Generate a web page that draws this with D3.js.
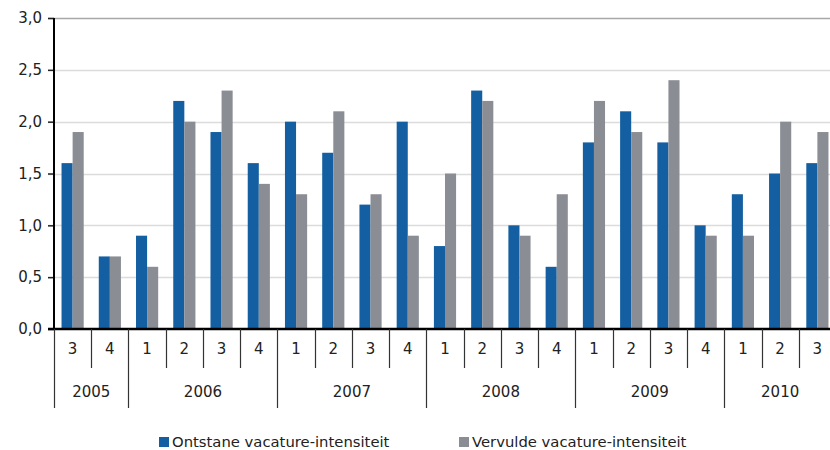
<!doctype html>
<html>
<head>
<meta charset="utf-8">
<title>Vacature-intensiteit</title>
<script src="https://cdn.jsdelivr.net/npm/d3@7"></script>
<style>
    body { margin: 0; background: white; }
    text { font-family: Verdana, "DejaVu Sans", sans-serif; fill: #222; }
    .tick text { font-size: 15px; }
</style>
</head>
<body>
<script>
    // data
    const years = ["2005", "2006", "2007", "2008", "2009", "2010"];
    const quarters = ["3", "4", "1", "2", "3", "4", "1", "2", "3", "4", "1", "2", "3", "4",
        "1", "2", "3", "4", "1", "2", "3"];
    const quarterYear = [0, 0, 1, 1, 1, 1, 2, 2, 2, 2, 3, 3, 3, 3, 4, 4, 4, 4, 5, 5, 5];
    const ontstaan = [1.6, 0.7, 0.9, 2.2, 1.9, 1.6, 2.0, 1.7, 1.2, 2.0, 0.8, 2.3, 1.0, 0.6,
        1.8, 2.1, 1.8, 1.0, 1.3, 1.5, 1.6];
    const vervuld = [1.9, 0.7, 0.6, 2.0, 2.3, 1.4, 1.3, 2.1, 1.3, 0.9, 1.5, 2.2, 0.9, 1.3,
        2.2, 1.9, 2.4, 0.9, 0.9, 2.0, 1.9];
    const seriesNames = ["Ontstane vacature-intensiteit", "Vervulde vacature-intensiteit"];
    const colours = ["#135fa1", "#8a8d94"];
    const yTicks = [0, 0.5, 1, 1.5, 2, 2.5, 3];

    const width = 830, height = 450;
    const plotLeft = 54, plotRight = 836, plotTop = 18, plotBottom = 329;

    const svg = d3.select("body").append("svg")
        .attr("width", width)
        .attr("height", height);

    const x = d3.scaleBand()
        .domain(d3.range(quarters.length))
        .range([plotLeft, plotRight]);
    const sub = d3.scaleBand()
        .domain([0, 1])
        .range([0, x.bandwidth()])
        .paddingOuter(0.68);
    const y = d3.scaleLinear()
        .domain([0, 3])
        .range([plotBottom, plotTop]);

    const fmt = v => d3.format(".1f")(v).replace(".", ",");

    // grid
    svg.append("g")
        .selectAll("line")
        .data(yTicks.slice(1))
        .join("line")
        .attr("x1", plotLeft - 6)
        .attr("x2", width)
        .attr("y1", d => Math.round(y(d)) + 0.5)
        .attr("y2", d => Math.round(y(d)) + 0.5)
        .attr("stroke", d => d === 3 ? "#a8a8a8" : "#dcdcdc")
        .attr("stroke-width", 1.5);

    // y axis
    const yAxis = svg.append("g")
        .attr("transform", `translate(${plotLeft},0)`)
        .call(d3.axisLeft(y).tickValues(yTicks).tickFormat(fmt).tickSize(6).tickPadding(6));
    yAxis.select(".domain").remove();
    yAxis.selectAll(".tick line").attr("stroke", "#222").attr("stroke-width", 1.5);
    yAxis.attr("font-family", null).attr("font-size", null);

    // bars
    const series = [ontstaan, vervuld];
    series.forEach((vals, s) => {
        svg.append("g")
            .selectAll("rect")
            .data(vals)
            .join("rect")
            .attr("x", (d, i) => x(i) + sub(s))
            .attr("width", sub.bandwidth())
            .attr("y", d => y(d))
            .attr("height", d => y(0) - y(d))
            .attr("fill", colours[s]);
    });

    // axes lines
    svg.append("line")
        .attr("x1", plotLeft).attr("x2", plotLeft)
        .attr("y1", plotTop).attr("y2", plotBottom)
        .attr("stroke", "#000").attr("stroke-width", 2);
    svg.append("line")
        .attr("x1", plotLeft - 6).attr("x2", width)
        .attr("y1", plotBottom).attr("y2", plotBottom)
        .attr("stroke", "#000").attr("stroke-width", 2.5);

    // quarter separators and labels
    const sepG = svg.append("g").attr("stroke", "#333").attr("stroke-width", 1.2);
    const bounds = d3.range(quarters.length + 1).map(i => i < quarters.length ? x(i) : plotRight);
    bounds.forEach((bx, i) => {
        const yearEdge = i === 0 || i === quarters.length || quarterYear[i] !== quarterYear[i - 1];
        sepG.append("line")
            .attr("x1", Math.round(bx) + 0.5).attr("x2", Math.round(bx) + 0.5)
            .attr("y1", plotBottom).attr("y2", yearEdge ? 408 : 368);
    });
    svg.append("g")
        .selectAll("text")
        .data(quarters)
        .join("text")
        .attr("x", (d, i) => x(i) + x.bandwidth() / 2)
        .attr("y", 349)
        .attr("dy", "0.35em")
        .attr("text-anchor", "middle")
        .attr("font-size", 15)
        .text(d => d);

    // year labels
    svg.append("g")
        .selectAll("text")
        .data(years)
        .join("text")
        .attr("x", (d, k) => {
            const idx = quarterYear.map((q, i) => q === k ? i : -1).filter(i => i >= 0);
            return (x(idx[0]) + x(idx[idx.length - 1]) + x.bandwidth()) / 2;
        })
        .attr("y", 392)
        .attr("dy", "0.35em")
        .attr("text-anchor", "middle")
        .attr("font-size", 15)
        .text(d => d);

    // legend
    const legX = [159, 459];
    const leg = svg.append("g");
    seriesNames.forEach((name, s) => {
        leg.append("rect")
            .attr("x", legX[s]).attr("y", 437)
            .attr("width", 10).attr("height", 10)
            .attr("fill", colours[s]);
        leg.append("text")
            .attr("x", legX[s] + 13).attr("y", 447)
            .attr("font-size", 14.8)
            .text(name);
    });
</script>
</body>
</html>
